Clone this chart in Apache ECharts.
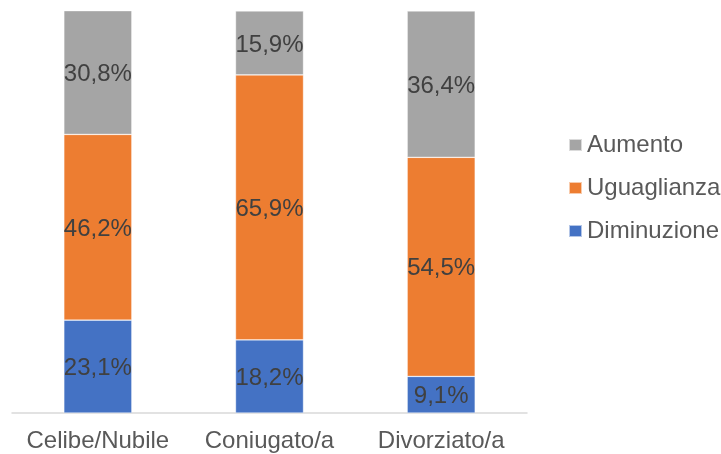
<!DOCTYPE html>
<html>
<head>
<meta charset="utf-8">
<script src="https://cdn.jsdelivr.net/npm/echarts@6/dist/echarts.min.js"></script>
<style>
  html, body { margin: 0; padding: 0; background: #fff; }
  #chart { width: 721px; height: 454px; }
</style>
</head>
<body>
<div id="chart"></div>
<script>
// Marital status categories
const categories = ['Celibe/Nubile', 'Coniugato/a', 'Divorziato/a'];
// Share of answers per category (percent)
const diminuzione = [23.1, 18.2, 9.1];
const uguaglianza = [46.2, 65.9, 54.5];
const aumento = [30.8, 15.9, 36.4];

const seriesNames = ['Diminuzione', 'Uguaglianza', 'Aumento'];
const seriesData = [diminuzione, uguaglianza, aumento];
const seriesColors = ['#4472C4', '#ED7D31', '#A5A5A5'];

const fontFamily = '"Liberation Sans", Arial, sans-serif';

const chart = echarts.init(document.getElementById('chart'));
chart.setOption({
  animation: false,
  textStyle: { fontFamily: fontFamily },
  grid: { left: 12, top: 11, width: 515, bottom: 41, containLabel: false },
  legend: {
    orient: 'vertical',
    left: 568,
    top: 133,
    padding: 0,
    itemWidth: 13,
    itemHeight: 12,
    itemGap: 19,
    icon: 'rect',
    data: ['Aumento', 'Uguaglianza', 'Diminuzione'],
    textStyle: { fontSize: 24, color: '#595959', fontFamily: fontFamily }
  },
  xAxis: {
    type: 'category',
    data: categories,
    axisLine: { show: true, lineStyle: { color: '#D9D9D9', width: 1.5 } },
    axisTick: { show: false },
    axisLabel: { fontSize: 24, color: '#595959', margin: 16, interval: 0, hideOverlap: false, fontFamily: fontFamily }
  },
  yAxis: {
    type: 'value',
    min: 0,
    max: 100,
    show: false,
    splitLine: { show: false }
  },
  series: seriesNames.map((name, i) => ({
    name: name,
    type: 'bar',
    stack: 'total',
    barWidth: 68,
    data: seriesData[i],
    itemStyle: { color: seriesColors[i], borderColor: 'rgba(255,255,255,0.6)', borderWidth: 0.6 },
    label: {
      show: true,
      position: 'inside',
      offset: [0, 2],
      fontSize: 24,
      color: '#404040',
      fontFamily: fontFamily,
      formatter: p => p.value.toFixed(1).replace('.', ',') + '%'
    }
  }))
});
</script>
</body>
</html>
